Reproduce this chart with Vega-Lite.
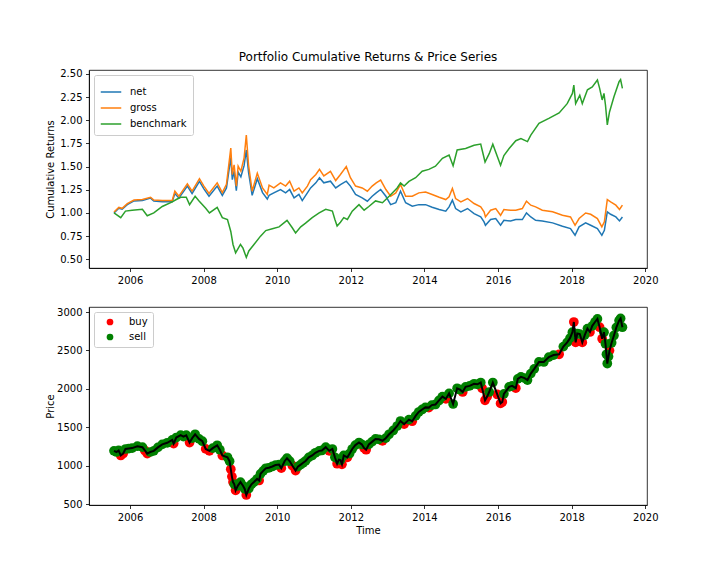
{
  "$schema": "https://vega.github.io/schema/vega-lite/v6.json",
  "padding": {"left": 44, "top": 50, "right": 0, "bottom": 0},
  "spacing": 20,
  "resolve": {"scale": {"color": "independent"}, "legend": {"color": "independent"}},
  "config": {
    "font": "DejaVu Sans",
    "view": {"stroke": "black", "strokeWidth": 0.8},
    "axis": {"domainColor": "black", "domainWidth": 0.8, "tickColor": "black", "tickWidth": 0.8, "tickSize": 3.5, "labelColor": "black", "labelFontSize": 10, "labelPadding": 3.5, "titleFontSize": 10, "titleFontWeight": "normal", "titleColor": "black", "grid": false},
    "legend": {"labelFontSize": 10, "labelColor": "black", "strokeColor": "#cccccc", "fillColor": "white", "padding": 5, "cornerRadius": 2, "orient": "top-left", "offset": 5, "title": null},
    "title": {"fontSize": 12, "fontWeight": "normal", "color": "black", "offset": 5}
  },
  "vconcat": [
    {
      "width": 558,
      "height": 198,
      "title": "Portfolio Cumulative Returns & Price Series",
      "data": {"values": [
        {"t": "2005-07-26", "net": 1.00, "gross": 1.01},
        {"t": "2005-09-12", "net": 1.05, "gross": 1.06},
        {"t": "2005-10-15", "net": 1.04, "gross": 1.05},
        {"t": "2005-12-05", "net": 1.09, "gross": 1.10},
        {"t": "2006-02-10", "net": 1.13, "gross": 1.14},
        {"t": "2006-05-04", "net": 1.135, "gross": 1.145},
        {"t": "2006-07-24", "net": 1.16, "gross": 1.17},
        {"t": "2006-08-25", "net": 1.13, "gross": 1.14},
        {"t": "2006-11-17", "net": 1.12, "gross": 1.135},
        {"t": "2007-02-24", "net": 1.12, "gross": 1.135},
        {"t": "2007-03-22", "net": 1.21, "gross": 1.235},
        {"t": "2007-05-01", "net": 1.16, "gross": 1.18},
        {"t": "2007-07-24", "net": 1.29, "gross": 1.315},
        {"t": "2007-09-09", "net": 1.21, "gross": 1.235},
        {"t": "2007-11-21", "net": 1.34, "gross": 1.37},
        {"t": "2008-01-04", "net": 1.26, "gross": 1.29},
        {"t": "2008-02-24", "net": 1.18, "gross": 1.21},
        {"t": "2008-05-15", "net": 1.29, "gross": 1.325},
        {"t": "2008-07-05", "net": 1.19, "gross": 1.22},
        {"t": "2008-08-15", "net": 1.27, "gross": 1.31},
        {"t": "2008-09-27", "net": 1.60, "gross": 1.70},
        {"t": "2008-10-12", "net": 1.36, "gross": 1.415},
        {"t": "2008-10-30", "net": 1.45, "gross": 1.52},
        {"t": "2008-11-21", "net": 1.24, "gross": 1.29},
        {"t": "2008-12-09", "net": 1.44, "gross": 1.505},
        {"t": "2009-01-05", "net": 1.39, "gross": 1.45},
        {"t": "2009-02-06", "net": 1.51, "gross": 1.595},
        {"t": "2009-02-28", "net": 1.68, "gross": 1.84},
        {"t": "2009-03-22", "net": 1.44, "gross": 1.52},
        {"t": "2009-04-27", "net": 1.19, "gross": 1.235},
        {"t": "2009-06-17", "net": 1.37, "gross": 1.43},
        {"t": "2009-08-08", "net": 1.22, "gross": 1.27},
        {"t": "2009-09-24", "net": 1.15, "gross": 1.20},
        {"t": "2009-10-12", "net": 1.19, "gross": 1.30},
        {"t": "2009-11-28", "net": 1.217, "gross": 1.27},
        {"t": "2010-02-02", "net": 1.253, "gross": 1.325},
        {"t": "2010-03-25", "net": 1.217, "gross": 1.29},
        {"t": "2010-05-04", "net": 1.253, "gross": 1.343},
        {"t": "2010-06-17", "net": 1.163, "gross": 1.235},
        {"t": "2010-08-04", "net": 1.20, "gross": 1.27},
        {"t": "2010-09-06", "net": 1.134, "gross": 1.217},
        {"t": "2010-10-27", "net": 1.217, "gross": 1.29},
        {"t": "2010-11-28", "net": 1.27, "gross": 1.36},
        {"t": "2011-01-19", "net": 1.325, "gross": 1.415},
        {"t": "2011-02-24", "net": 1.38, "gross": 1.47},
        {"t": "2011-04-08", "net": 1.325, "gross": 1.40},
        {"t": "2011-06-13", "net": 1.343, "gross": 1.45},
        {"t": "2011-08-04", "net": 1.27, "gross": 1.35},
        {"t": "2011-09-20", "net": 1.307, "gross": 1.415},
        {"t": "2011-11-17", "net": 1.343, "gross": 1.50},
        {"t": "2011-12-28", "net": 1.29, "gross": 1.38},
        {"t": "2012-02-17", "net": 1.20, "gross": 1.29},
        {"t": "2012-04-23", "net": 1.163, "gross": 1.27},
        {"t": "2012-06-13", "net": 1.127, "gross": 1.235},
        {"t": "2012-07-31", "net": 1.18, "gross": 1.29},
        {"t": "2012-09-09", "net": 1.217, "gross": 1.325},
        {"t": "2012-10-23", "net": 1.253, "gross": 1.355},
        {"t": "2012-12-14", "net": 1.18, "gross": 1.253},
        {"t": "2013-01-30", "net": 1.09, "gross": 1.18},
        {"t": "2013-03-22", "net": 1.11, "gross": 1.217},
        {"t": "2013-05-08", "net": 1.235, "gross": 1.307},
        {"t": "2013-06-28", "net": 1.11, "gross": 1.18},
        {"t": "2013-09-02", "net": 1.073, "gross": 1.18},
        {"t": "2013-11-06", "net": 1.09, "gross": 1.217},
        {"t": "2014-01-12", "net": 1.09, "gross": 1.225},
        {"t": "2014-03-18", "net": 1.062, "gross": 1.20},
        {"t": "2014-05-27", "net": 1.037, "gross": 1.17},
        {"t": "2014-07-31", "net": 1.019, "gross": 1.145},
        {"t": "2014-09-02", "net": 1.066, "gross": 1.174},
        {"t": "2014-10-05", "net": 1.138, "gross": 1.264},
        {"t": "2014-11-06", "net": 1.048, "gross": 1.156},
        {"t": "2014-12-28", "net": 1.012, "gross": 1.12},
        {"t": "2015-03-04", "net": 1.048, "gross": 1.156},
        {"t": "2015-05-08", "net": 0.993, "gross": 1.102},
        {"t": "2015-07-13", "net": 0.957, "gross": 1.066},
        {"t": "2015-08-15", "net": 0.903, "gross": 1.012},
        {"t": "2015-08-29", "net": 0.867, "gross": 0.957},
        {"t": "2015-10-19", "net": 0.929, "gross": 1.03},
        {"t": "2015-12-09", "net": 0.94, "gross": 1.048},
        {"t": "2016-01-26", "net": 0.867, "gross": 0.975},
        {"t": "2016-02-28", "net": 0.921, "gross": 1.037},
        {"t": "2016-05-04", "net": 0.914, "gross": 1.03},
        {"t": "2016-06-25", "net": 0.929, "gross": 1.03},
        {"t": "2016-08-29", "net": 0.929, "gross": 1.048},
        {"t": "2016-10-09", "net": 1.00, "gross": 1.127},
        {"t": "2016-11-21", "net": 0.957, "gross": 1.084},
        {"t": "2017-01-08", "net": 0.921, "gross": 1.066},
        {"t": "2017-03-15", "net": 0.914, "gross": 1.03},
        {"t": "2017-06-25", "net": 0.893, "gross": 1.012},
        {"t": "2017-10-01", "net": 0.857, "gross": 0.975},
        {"t": "2017-12-20", "net": 0.831, "gross": 0.957},
        {"t": "2018-02-03", "net": 0.759, "gross": 0.867},
        {"t": "2018-03-15", "net": 0.85, "gross": 0.94},
        {"t": "2018-05-19", "net": 0.893, "gross": 1.00},
        {"t": "2018-07-08", "net": 0.867, "gross": 0.986},
        {"t": "2018-09-13", "net": 0.831, "gross": 0.94},
        {"t": "2018-10-27", "net": 0.759, "gross": 0.85},
        {"t": "2018-11-21", "net": 0.813, "gross": 0.904},
        {"t": "2018-12-20", "net": 1.012, "gross": 1.145},
        {"t": "2019-01-22", "net": 0.986, "gross": 1.12},
        {"t": "2019-03-15", "net": 0.957, "gross": 1.084},
        {"t": "2019-04-20", "net": 0.914, "gross": 1.037},
        {"t": "2019-05-19", "net": 0.957, "gross": 1.084},
        {"t": "2005-07-26", "benchmark": 1.00},
        {"t": "2005-10-01", "benchmark": 0.95},
        {"t": "2005-11-17", "benchmark": 1.02},
        {"t": "2006-01-22", "benchmark": 1.03},
        {"t": "2006-05-04", "benchmark": 1.04},
        {"t": "2006-06-21", "benchmark": 0.97},
        {"t": "2006-08-25", "benchmark": 1.00},
        {"t": "2006-11-17", "benchmark": 1.07},
        {"t": "2007-02-24", "benchmark": 1.12},
        {"t": "2007-04-05", "benchmark": 1.145},
        {"t": "2007-05-19", "benchmark": 1.17},
        {"t": "2007-07-13", "benchmark": 1.17},
        {"t": "2007-08-15", "benchmark": 1.09},
        {"t": "2007-10-09", "benchmark": 1.18},
        {"t": "2007-11-17", "benchmark": 1.13},
        {"t": "2008-01-22", "benchmark": 1.05},
        {"t": "2008-02-28", "benchmark": 1.00},
        {"t": "2008-05-15", "benchmark": 1.06},
        {"t": "2008-07-05", "benchmark": 0.95},
        {"t": "2008-08-25", "benchmark": 0.93},
        {"t": "2008-09-27", "benchmark": 0.80},
        {"t": "2008-10-19", "benchmark": 0.66},
        {"t": "2008-11-14", "benchmark": 0.57},
        {"t": "2009-01-01", "benchmark": 0.66},
        {"t": "2009-01-26", "benchmark": 0.62},
        {"t": "2009-02-28", "benchmark": 0.52},
        {"t": "2009-03-25", "benchmark": 0.59},
        {"t": "2009-05-15", "benchmark": 0.66},
        {"t": "2009-07-19", "benchmark": 0.75},
        {"t": "2009-09-09", "benchmark": 0.81},
        {"t": "2009-11-13", "benchmark": 0.83},
        {"t": "2010-01-19", "benchmark": 0.85},
        {"t": "2010-04-08", "benchmark": 0.92},
        {"t": "2010-05-30", "benchmark": 0.84},
        {"t": "2010-07-02", "benchmark": 0.785},
        {"t": "2010-08-22", "benchmark": 0.85},
        {"t": "2010-10-09", "benchmark": 0.89},
        {"t": "2010-12-14", "benchmark": 0.95},
        {"t": "2011-02-21", "benchmark": 1.00},
        {"t": "2011-04-27", "benchmark": 1.04},
        {"t": "2011-07-02", "benchmark": 1.02},
        {"t": "2011-07-27", "benchmark": 0.93},
        {"t": "2011-08-18", "benchmark": 0.86},
        {"t": "2011-09-20", "benchmark": 0.90},
        {"t": "2011-10-23", "benchmark": 0.95},
        {"t": "2011-11-28", "benchmark": 0.93},
        {"t": "2012-01-15", "benchmark": 1.02},
        {"t": "2012-03-22", "benchmark": 1.09},
        {"t": "2012-05-12", "benchmark": 1.03},
        {"t": "2012-06-28", "benchmark": 1.07},
        {"t": "2012-09-02", "benchmark": 1.13},
        {"t": "2012-11-10", "benchmark": 1.11},
        {"t": "2013-01-15", "benchmark": 1.18},
        {"t": "2013-04-05", "benchmark": 1.27},
        {"t": "2013-05-08", "benchmark": 1.325},
        {"t": "2013-06-13", "benchmark": 1.29},
        {"t": "2013-07-31", "benchmark": 1.34},
        {"t": "2013-10-05", "benchmark": 1.38},
        {"t": "2013-12-09", "benchmark": 1.45},
        {"t": "2014-02-13", "benchmark": 1.47},
        {"t": "2014-04-20", "benchmark": 1.505},
        {"t": "2014-06-28", "benchmark": 1.59},
        {"t": "2014-09-02", "benchmark": 1.625},
        {"t": "2014-10-12", "benchmark": 1.51},
        {"t": "2014-11-21", "benchmark": 1.68},
        {"t": "2015-02-13", "benchmark": 1.696},
        {"t": "2015-05-08", "benchmark": 1.73},
        {"t": "2015-07-13", "benchmark": 1.743},
        {"t": "2015-07-27", "benchmark": 1.68},
        {"t": "2015-08-25", "benchmark": 1.55},
        {"t": "2015-10-05", "benchmark": 1.64},
        {"t": "2015-11-10", "benchmark": 1.743},
        {"t": "2015-12-24", "benchmark": 1.613},
        {"t": "2016-01-26", "benchmark": 1.516},
        {"t": "2016-02-28", "benchmark": 1.62},
        {"t": "2016-04-20", "benchmark": 1.696},
        {"t": "2016-06-25", "benchmark": 1.78},
        {"t": "2016-08-15", "benchmark": 1.804},
        {"t": "2016-10-19", "benchmark": 1.77},
        {"t": "2016-11-21", "benchmark": 1.84},
        {"t": "2017-02-10", "benchmark": 1.967},
        {"t": "2017-05-19", "benchmark": 2.02},
        {"t": "2017-08-29", "benchmark": 2.08},
        {"t": "2017-11-17", "benchmark": 2.18},
        {"t": "2018-01-08", "benchmark": 2.29},
        {"t": "2018-01-22", "benchmark": 2.38},
        {"t": "2018-02-09", "benchmark": 2.18},
        {"t": "2018-03-22", "benchmark": 2.27},
        {"t": "2018-04-16", "benchmark": 2.18},
        {"t": "2018-06-06", "benchmark": 2.33},
        {"t": "2018-07-24", "benchmark": 2.36},
        {"t": "2018-09-13", "benchmark": 2.435},
        {"t": "2018-10-05", "benchmark": 2.345},
        {"t": "2018-10-30", "benchmark": 2.22},
        {"t": "2018-11-17", "benchmark": 2.29},
        {"t": "2018-12-02", "benchmark": 2.165},
        {"t": "2018-12-20", "benchmark": 1.95},
        {"t": "2019-01-11", "benchmark": 2.09},
        {"t": "2019-02-24", "benchmark": 2.255},
        {"t": "2019-04-16", "benchmark": 2.417},
        {"t": "2019-05-01", "benchmark": 2.44},
        {"t": "2019-05-19", "benchmark": 2.345}
      ]},
      "transform": [
        {"fold": ["net", "gross", "benchmark"], "as": ["series", "value"]},
        {"filter": "isValid(datum.value)"}
      ],
      "mark": {"type": "line", "strokeWidth": 1.5},
      "encoding": {
        "x": {"field": "t", "type": "temporal", "scale": {"domain": ["2004-11-20", "2020-01-18"]}, "axis": {"title": null, "format": "%Y", "values": [{"year": 2006}, {"year": 2008}, {"year": 2010}, {"year": 2012}, {"year": 2014}, {"year": 2016}, {"year": 2018}, {"year": 2020}]}},
        "y": {"field": "value", "type": "quantitative", "scale": {"domain": [0.406, 2.543]}, "axis": {"title": "Cumulative Returns", "values": [0.5, 0.75, 1.0, 1.25, 1.5, 1.75, 2.0, 2.25, 2.5], "format": ".2f", "minExtent": 28, "maxExtent": 28, "titlePadding": 6}},
        "color": {"field": "series", "type": "nominal", "scale": {"domain": ["net", "gross", "benchmark"], "range": ["#1f77b4", "#ff7f0e", "#2ca02c"]}, "legend": {"symbolType": "stroke", "symbolSize": 420, "symbolStrokeWidth": 1.5, "labelOffset": 8, "rowPadding": -5, "padding": 6}}
      }
    },
    {
      "width": 558,
      "height": 198,
      "data": {"values": [
        {"t": "2005-07-26", "price": 1195, "signal": "sell"},
        {"t": "2005-08-20", "price": 1180, "signal": "sell"},
        {"t": "2005-09-10", "price": 1200, "signal": "sell"},
        {"t": "2005-10-01", "price": 1135, "signal": "buy"},
        {"t": "2005-10-25", "price": 1160, "signal": "buy"},
        {"t": "2005-11-17", "price": 1219, "signal": "sell"},
        {"t": "2005-12-20", "price": 1225, "signal": "sell"},
        {"t": "2006-01-22", "price": 1231, "signal": "sell"},
        {"t": "2006-03-15", "price": 1255, "signal": "sell"},
        {"t": "2006-05-04", "price": 1243, "signal": "sell"},
        {"t": "2006-05-28", "price": 1200, "signal": "buy"},
        {"t": "2006-06-21", "price": 1159, "signal": "buy"},
        {"t": "2006-07-20", "price": 1180, "signal": "sell"},
        {"t": "2006-08-25", "price": 1195, "signal": "sell"},
        {"t": "2006-10-05", "price": 1240, "signal": "sell"},
        {"t": "2006-11-17", "price": 1279, "signal": "sell"},
        {"t": "2007-01-05", "price": 1300, "signal": "sell"},
        {"t": "2007-02-24", "price": 1338, "signal": "sell"},
        {"t": "2007-03-10", "price": 1290, "signal": "buy"},
        {"t": "2007-04-05", "price": 1368, "signal": "sell"},
        {"t": "2007-05-19", "price": 1398, "signal": "sell"},
        {"t": "2007-06-15", "price": 1380, "signal": "sell"},
        {"t": "2007-07-13", "price": 1398, "signal": "sell"},
        {"t": "2007-08-15", "price": 1303, "signal": "buy"},
        {"t": "2007-09-10", "price": 1360, "signal": "sell"},
        {"t": "2007-10-09", "price": 1410, "signal": "sell"},
        {"t": "2007-11-17", "price": 1350, "signal": "sell"},
        {"t": "2007-12-20", "price": 1320, "signal": "sell"},
        {"t": "2008-01-22", "price": 1220, "signal": "buy"},
        {"t": "2008-02-28", "price": 1195, "signal": "buy"},
        {"t": "2008-04-01", "price": 1230, "signal": "sell"},
        {"t": "2008-05-15", "price": 1267, "signal": "sell"},
        {"t": "2008-06-10", "price": 1210, "signal": "sell"},
        {"t": "2008-07-05", "price": 1135, "signal": "buy"},
        {"t": "2008-08-25", "price": 1111, "signal": "sell"},
        {"t": "2008-09-15", "price": 1060, "signal": "sell"},
        {"t": "2008-09-27", "price": 956, "signal": "buy"},
        {"t": "2008-10-08", "price": 860, "signal": "buy"},
        {"t": "2008-10-19", "price": 789, "signal": "buy"},
        {"t": "2008-11-01", "price": 760, "signal": "sell"},
        {"t": "2008-11-14", "price": 681, "signal": "buy"},
        {"t": "2008-12-05", "price": 740, "signal": "sell"},
        {"t": "2009-01-01", "price": 789, "signal": "sell"},
        {"t": "2009-01-26", "price": 741, "signal": "sell"},
        {"t": "2009-02-12", "price": 700, "signal": "sell"},
        {"t": "2009-02-28", "price": 621, "signal": "buy"},
        {"t": "2009-03-25", "price": 705, "signal": "sell"},
        {"t": "2009-04-20", "price": 760, "signal": "sell"},
        {"t": "2009-05-15", "price": 789, "signal": "sell"},
        {"t": "2009-06-15", "price": 830, "signal": "sell"},
        {"t": "2009-07-05", "price": 810, "signal": "buy"},
        {"t": "2009-07-19", "price": 896, "signal": "sell"},
        {"t": "2009-08-15", "price": 935, "signal": "sell"},
        {"t": "2009-09-09", "price": 968, "signal": "sell"},
        {"t": "2009-10-10", "price": 975, "signal": "sell"},
        {"t": "2009-11-13", "price": 992, "signal": "sell"},
        {"t": "2009-12-15", "price": 1010, "signal": "sell"},
        {"t": "2010-01-19", "price": 1016, "signal": "sell"},
        {"t": "2010-02-10", "price": 970, "signal": "buy"},
        {"t": "2010-03-15", "price": 1060, "signal": "sell"},
        {"t": "2010-04-08", "price": 1099, "signal": "sell"},
        {"t": "2010-05-05", "price": 1060, "signal": "sell"},
        {"t": "2010-05-30", "price": 1004, "signal": "buy"},
        {"t": "2010-07-02", "price": 938, "signal": "buy"},
        {"t": "2010-07-25", "price": 990, "signal": "sell"},
        {"t": "2010-08-22", "price": 1016, "signal": "sell"},
        {"t": "2010-09-15", "price": 1040, "signal": "sell"},
        {"t": "2010-10-09", "price": 1064, "signal": "sell"},
        {"t": "2010-11-10", "price": 1110, "signal": "sell"},
        {"t": "2010-12-14", "price": 1135, "signal": "sell"},
        {"t": "2011-01-15", "price": 1170, "signal": "sell"},
        {"t": "2011-02-21", "price": 1195, "signal": "sell"},
        {"t": "2011-03-20", "price": 1200, "signal": "sell"},
        {"t": "2011-04-27", "price": 1243, "signal": "sell"},
        {"t": "2011-06-01", "price": 1195, "signal": "buy"},
        {"t": "2011-07-02", "price": 1219, "signal": "sell"},
        {"t": "2011-07-27", "price": 1111, "signal": "sell"},
        {"t": "2011-08-18", "price": 1028, "signal": "buy"},
        {"t": "2011-09-05", "price": 1080, "signal": "sell"},
        {"t": "2011-09-20", "price": 1076, "signal": "sell"},
        {"t": "2011-10-05", "price": 1020, "signal": "buy"},
        {"t": "2011-10-23", "price": 1135, "signal": "sell"},
        {"t": "2011-11-28", "price": 1111, "signal": "buy"},
        {"t": "2011-12-20", "price": 1160, "signal": "sell"},
        {"t": "2012-01-15", "price": 1219, "signal": "sell"},
        {"t": "2012-02-15", "price": 1270, "signal": "sell"},
        {"t": "2012-03-22", "price": 1303, "signal": "sell"},
        {"t": "2012-04-18", "price": 1280, "signal": "sell"},
        {"t": "2012-05-12", "price": 1231, "signal": "buy"},
        {"t": "2012-06-01", "price": 1210, "signal": "buy"},
        {"t": "2012-06-28", "price": 1279, "signal": "sell"},
        {"t": "2012-08-01", "price": 1315, "signal": "sell"},
        {"t": "2012-09-02", "price": 1350, "signal": "sell"},
        {"t": "2012-10-05", "price": 1345, "signal": "sell"},
        {"t": "2012-11-10", "price": 1326, "signal": "buy"},
        {"t": "2012-12-12", "price": 1360, "signal": "sell"},
        {"t": "2013-01-15", "price": 1410, "signal": "sell"},
        {"t": "2013-02-25", "price": 1460, "signal": "sell"},
        {"t": "2013-04-05", "price": 1518, "signal": "sell"},
        {"t": "2013-05-08", "price": 1583, "signal": "sell"},
        {"t": "2013-06-13", "price": 1542, "signal": "buy"},
        {"t": "2013-07-31", "price": 1601, "signal": "sell"},
        {"t": "2013-09-01", "price": 1580, "signal": "buy"},
        {"t": "2013-10-05", "price": 1649, "signal": "sell"},
        {"t": "2013-11-05", "price": 1700, "signal": "sell"},
        {"t": "2013-12-09", "price": 1733, "signal": "sell"},
        {"t": "2014-01-10", "price": 1760, "signal": "sell"},
        {"t": "2014-02-13", "price": 1757, "signal": "buy"},
        {"t": "2014-03-15", "price": 1790, "signal": "sell"},
        {"t": "2014-04-20", "price": 1798, "signal": "sell"},
        {"t": "2014-05-25", "price": 1850, "signal": "sell"},
        {"t": "2014-06-28", "price": 1900, "signal": "sell"},
        {"t": "2014-08-01", "price": 1870, "signal": "buy"},
        {"t": "2014-09-02", "price": 1942, "signal": "sell"},
        {"t": "2014-10-12", "price": 1804, "signal": "sell"},
        {"t": "2014-11-21", "price": 2008, "signal": "sell"},
        {"t": "2014-12-20", "price": 1990, "signal": "sell"},
        {"t": "2015-01-15", "price": 1960, "signal": "buy"},
        {"t": "2015-02-13", "price": 2027, "signal": "sell"},
        {"t": "2015-03-25", "price": 2040, "signal": "sell"},
        {"t": "2015-05-08", "price": 2067, "signal": "sell"},
        {"t": "2015-06-10", "price": 2060, "signal": "sell"},
        {"t": "2015-07-13", "price": 2083, "signal": "sell"},
        {"t": "2015-07-27", "price": 2008, "signal": "buy"},
        {"t": "2015-08-25", "price": 1852, "signal": "buy"},
        {"t": "2015-09-15", "price": 1900, "signal": "buy"},
        {"t": "2015-10-05", "price": 1960, "signal": "sell"},
        {"t": "2015-11-10", "price": 2083, "signal": "sell"},
        {"t": "2015-12-24", "price": 1928, "signal": "buy"},
        {"t": "2016-01-26", "price": 1812, "signal": "buy"},
        {"t": "2016-02-12", "price": 1830, "signal": "buy"},
        {"t": "2016-02-28", "price": 1936, "signal": "sell"},
        {"t": "2016-04-20", "price": 2027, "signal": "sell"},
        {"t": "2016-05-20", "price": 2040, "signal": "sell"},
        {"t": "2016-06-25", "price": 2010, "signal": "buy"},
        {"t": "2016-07-15", "price": 2130, "signal": "sell"},
        {"t": "2016-08-15", "price": 2156, "signal": "sell"},
        {"t": "2016-09-20", "price": 2140, "signal": "sell"},
        {"t": "2016-10-19", "price": 2115, "signal": "sell"},
        {"t": "2016-11-21", "price": 2199, "signal": "sell"},
        {"t": "2016-12-25", "price": 2260, "signal": "sell"},
        {"t": "2017-02-10", "price": 2351, "signal": "sell"},
        {"t": "2017-03-30", "price": 2350, "signal": "sell"},
        {"t": "2017-05-19", "price": 2414, "signal": "sell"},
        {"t": "2017-07-05", "price": 2440, "signal": "sell"},
        {"t": "2017-08-29", "price": 2450, "signal": "buy"},
        {"t": "2017-10-10", "price": 2550, "signal": "sell"},
        {"t": "2017-11-17", "price": 2605, "signal": "sell"},
        {"t": "2017-12-15", "price": 2660, "signal": "sell"},
        {"t": "2018-01-08", "price": 2737, "signal": "sell"},
        {"t": "2018-01-22", "price": 2870, "signal": "buy"},
        {"t": "2018-02-09", "price": 2605, "signal": "buy"},
        {"t": "2018-02-25", "price": 2720, "signal": "sell"},
        {"t": "2018-03-22", "price": 2713, "signal": "sell"},
        {"t": "2018-04-16", "price": 2605, "signal": "buy"},
        {"t": "2018-05-10", "price": 2700, "signal": "sell"},
        {"t": "2018-06-06", "price": 2784, "signal": "sell"},
        {"t": "2018-07-01", "price": 2740, "signal": "buy"},
        {"t": "2018-07-24", "price": 2820, "signal": "sell"},
        {"t": "2018-08-20", "price": 2870, "signal": "sell"},
        {"t": "2018-09-13", "price": 2910, "signal": "sell"},
        {"t": "2018-10-05", "price": 2802, "signal": "buy"},
        {"t": "2018-10-30", "price": 2653, "signal": "buy"},
        {"t": "2018-11-17", "price": 2737, "signal": "sell"},
        {"t": "2018-12-02", "price": 2587, "signal": "sell"},
        {"t": "2018-12-12", "price": 2450, "signal": "sell"},
        {"t": "2018-12-20", "price": 2330, "signal": "sell"},
        {"t": "2019-01-01", "price": 2420, "signal": "sell"},
        {"t": "2019-01-11", "price": 2498, "signal": "buy"},
        {"t": "2019-02-01", "price": 2600, "signal": "sell"},
        {"t": "2019-02-24", "price": 2695, "signal": "sell"},
        {"t": "2019-03-20", "price": 2800, "signal": "sell"},
        {"t": "2019-04-16", "price": 2888, "signal": "sell"},
        {"t": "2019-05-01", "price": 2916, "signal": "sell"},
        {"t": "2019-05-19", "price": 2802, "signal": "sell"}
      ]},
      "encoding": {
        "x": {"field": "t", "type": "temporal", "scale": {"domain": ["2004-11-20", "2020-01-18"]}, "axis": {"title": "Time", "titlePadding": 3, "format": "%Y", "values": [{"year": 2006}, {"year": 2008}, {"year": 2010}, {"year": 2012}, {"year": 2014}, {"year": 2016}, {"year": 2018}, {"year": 2020}]}},
        "y": {"field": "price", "type": "quantitative", "scale": {"domain": [491, 3065]}, "axis": {"title": "Price", "values": [500, 1000, 1500, 2000, 2500, 3000], "format": "d", "minExtent": 28, "maxExtent": 28, "titlePadding": 6}}
      },
      "layer": [
        {
          "mark": {"type": "circle", "size": 95, "opacity": 1},
          "encoding": {
            "color": {"field": "signal", "type": "nominal", "scale": {"domain": ["buy", "sell"], "range": ["red", "green"]}, "legend": {"symbolType": "circle", "symbolSize": 45, "symbolOffset": 6, "labelOffset": 14, "rowPadding": 5}},
            "order": {"field": "signal"}
          }
        },
        {
          "mark": {"type": "line", "color": "black", "strokeWidth": 2},
          "encoding": {}
        }
      ]
    }
  ]
}
